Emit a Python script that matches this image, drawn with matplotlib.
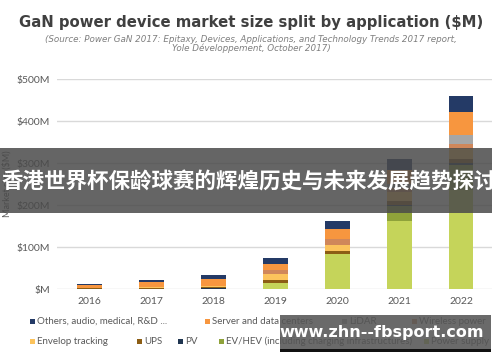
import matplotlib
matplotlib.use("Agg")
import matplotlib.pyplot as plt
from matplotlib.patches import Rectangle
import numpy as np

years = ["2016", "2017", "2018", "2019", "2020", "2021", "2022"]
# stacked from bottom to top
series_names = ["Power supply", "EV/HEV (including charging infrastructures)", "PV", "UPS",
                "Envelop tracking", "Wireless power", "LiDAR", "Server and data centers",
                "Others, audio, medical, R&D ..."]
power_supply = [0.5, 0.5, 1, 15, 83, 162, 236]
ev_hev       = [0, 0, 0, 0, 0, 35, 60]
pv           = [0.5, 0.5, 1, 0, 0, 4, 5]
ups          = [1, 2, 2, 6, 8, 8, 8]
envelope     = [0.5, 1, 2, 14, 14, 22, 24]
wireless     = [1, 1, 2, 10, 13, 10, 12]
lidar        = [0, 0, 0, 0, 0, 8, 22]
server       = [7, 11, 17, 14, 26, 34, 54]
others       = [2, 5, 8, 15, 18, 27, 39]
yticks = [0, 100, 200, 300, 400, 500]
ytick_labels = ["$M", "$100M", "$200M", "$300M", "$400M", "$500M"]

colors = {
    "Power supply": "#c5d45a",
    "EV/HEV (including charging infrastructures)": "#8fa23a",
    "PV": "#1f3550",
    "UPS": "#8c5d14",
    "Envelop tracking": "#fcc35c",
    "Wireless power": "#d0875a",
    "LiDAR": "#a6a6a6",
    "Server and data centers": "#f7963f",
    "Others, audio, medical, R&D ...": "#243a66",
}
data = [power_supply, ev_hev, pv, ups, envelope, wireless, lidar, server, others]

fig = plt.figure(figsize=(5, 3.62), dpi=100)
W, H = 500, 362
def fx(x): return x / W
def fy(y): return 1 - y / H

ax = fig.add_axes([fx(57), fy(289), fx(492) - fx(57), fy(79) - fy(289)])
x = np.arange(len(years))
bottom = np.zeros(len(years))
for name, vals in zip(series_names, data):
    ax.bar(x, vals, width=0.4, bottom=bottom, color=colors[name], zorder=3, linewidth=0)
    bottom += np.array(vals)

ax.set_xlim(-0.53, 6.5)
ax.set_ylim(0, 500)
ax.set_yticks(yticks)
ax.set_yticklabels(ytick_labels)
ax.set_xticks(x)
ax.set_xticklabels(years)
for s in ax.spines.values():
    s.set_visible(False)
ax.grid(axis="y", color="#d9d9d9", linewidth=1, zorder=0)
ax.tick_params(axis="both", length=0, labelsize=7.5, labelcolor="#595959", labelfontfamily="Lato")
ax.tick_params(axis="y", pad=5)
ax.tick_params(axis="x", pad=6)
ax.set_ylabel("Market size ($M)", fontsize=6.5, color="#595959", family="Lato", labelpad=6)
ax.yaxis.set_label_coords(-0.105, 0.5)

fig.text(0.502, fy(23), "GaN power device market size split by application ($M)", ha="center", va="center",
         fontsize=10.7, fontweight="bold", color="#404040", family="DejaVu Sans")
fig.text(0.502, fy(39), "(Source: Power GaN 2017: Epitaxy, Devices, Applications, and Technology Trends 2017 report,",
         ha="center", va="center", fontsize=6.3, style="italic", color="#7f7f7f")
fig.text(0.502, fy(48.5), "Yole Développement, October 2017)",
         ha="center", va="center", fontsize=6.3, style="italic", color="#7f7f7f")

# legend
legend_items = [
    ("Others, audio, medical, R&D ...", 30, 321),
    ("Server and data centers", 205, 321),
    ("LiDAR", 342, 321),
    ("Wireless power", 412, 321),
    ("Envelop tracking", 30, 341),
    ("UPS", 137, 341),
    ("PV", 178, 341),
    ("EV/HEV (including charging infrastructures)", 219, 341),
    ("Power supply", 424, 341),
]
for name, lx, ly in legend_items:
    fig.add_artist(Rectangle((fx(lx), fy(ly + 2.5)), fx(5), 5 / H, transform=fig.transFigure,
                             facecolor=colors[name], edgecolor="none"))
    fig.text(fx(lx + 7), fy(ly), name, ha="left", va="center", fontsize=7, color="#595959", family="Lato")

# banner overlay
fig.add_artist(Rectangle((0, fy(213)), fx(492), (213 - 148) / H, transform=fig.transFigure,
                         facecolor="#4a4a4a", alpha=0.85, edgecolor="none", zorder=10))
fig.text(fx(249), fy(182), "香港世界杯保龄球赛的辉煌历史与未来发展趋势探讨", ha="center", va="center",
         fontsize=15.5, fontweight="bold", color="white",
         family=["Noto Sans CJK SC", "DejaVu Sans"], zorder=11)

# watermark overlay
fig.add_artist(Rectangle((fx(280), fy(352)), fx(211), (352 - 315) / H, transform=fig.transFigure,
                         facecolor="#555555", alpha=0.88, edgecolor="none", zorder=10))
fig.add_artist(Rectangle((fx(280), fy(352)), fx(211), 3 / H, transform=fig.transFigure,
                         facecolor="#111111", edgecolor="none", zorder=10))
fig.text(fx(382), fy(333), "www.zhn--fbsport.com", ha="center", va="center",
         fontsize=11.5, fontweight="bold", color="white", family="DejaVu Sans", zorder=11)

fig.savefig("out.png", dpi=100)
